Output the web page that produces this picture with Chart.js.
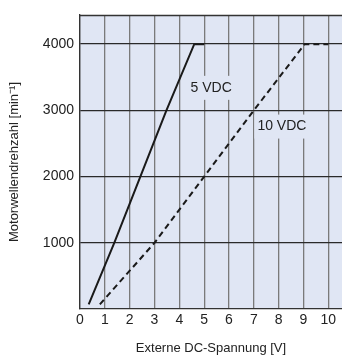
<!DOCTYPE html>
<html>
<head>
<meta charset="utf-8">
<script src="https://cdn.jsdelivr.net/npm/chart.js@4"></script>
<style>
  html, body { margin: 0; padding: 0; background: #fff; }
  #wrap { width: 342px; height: 356px; }
</style>
</head>
<body>
<div id="wrap"><canvas id="c" width="342" height="356"></canvas></div>
<script>
// Kennlinien: Spannung [V] -> Drehzahl [min-1]
const volt5   = [0.35, 1.38, 2.43, 3.48, 4.6, 5.0];
const rpm5    = [70, 1000, 2000, 3000, 4000, 4000];
const volt10  = [0.8, 3.0, 5.0, 7.0, 9.05, 10.0];
const rpm10   = [70, 1000, 2000, 3000, 4000, 4000];
const xTicks  = [0, 1, 2, 3, 4, 5, 6, 7, 8, 9, 10];
const yTicks  = [1000, 2000, 3000, 4000];
const curveLabels = [
  { text: "5 VDC",  x: 5.28, y: 3340 },
  { text: "10 VDC", x: 8.13, y: 2755 },
];

const FONT = "'Liberation Sans', Arial, sans-serif";
const BG   = "#e0e6f4";

// Hintergrund + Rahmen der Zeichenfläche
const plotFrame = {
  id: "plotFrame",
  beforeDraw(chart) {
    const { ctx, chartArea: a } = chart;
    ctx.save();
    ctx.fillStyle = BG;
    ctx.fillRect(a.left, a.top, a.right - a.left, a.bottom - a.top);
    ctx.restore();
  },
  beforeDatasetsDraw(chart) {
    const { ctx, chartArea: a, scales } = chart;
    ctx.save();
    ctx.strokeStyle = "#333";
    ctx.lineWidth = 1.3;
    ctx.beginPath();
    ctx.moveTo(a.left, a.top + 0.5);
    ctx.lineTo(a.right, a.top + 0.5);
    ctx.stroke();
    // Beschriftung der Kurven mit Hintergrund
    ctx.font = "14px " + FONT;
    ctx.textAlign = "center";
    ctx.textBaseline = "middle";
    for (const l of curveLabels) {
      const px = scales.x.getPixelForValue(l.x);
      const py = scales.y.getPixelForValue(l.y);
      const w = ctx.measureText(l.text).width;
      ctx.fillStyle = BG;
      ctx.fillRect(px - w / 2 - 3, py - 12, w + 6, 24);
      ctx.fillStyle = "#222";
      ctx.fillText(l.text, px, py);
    }
    ctx.restore();
  }
};

new Chart(document.getElementById("c").getContext("2d"), {
  type: "line",
  data: {
    datasets: [
      {
        label: "5 VDC",
        data: volt5.map((v, i) => ({ x: v, y: rpm5[i] })),
        borderColor: "#1a1a1a",
        borderWidth: 2,
        pointRadius: 0,
        tension: 0,
      },
      {
        label: "10 VDC",
        data: volt10.map((v, i) => ({ x: v, y: rpm10[i] })),
        borderColor: "#1a1a1a",
        borderWidth: 2,
        borderDash: [6, 4],
        pointRadius: 0,
        tension: 0,
      },
    ],
  },
  options: {
    responsive: false,
    animation: false,
    layout: { padding: { top: 15, right: 0, left: 0, bottom: 0 } },
    plugins: { legend: { display: false }, tooltip: { enabled: false } },
    scales: {
      x: {
        type: "linear",
        min: 0,
        max: 10.55,
        afterBuildTicks: s => { s.ticks = xTicks.map(v => ({ value: v })); },
        afterFit: s => { s.height = 47; },
        ticks: { color: "#222", font: { family: FONT, size: 14 }, padding: 3, maxRotation: 0,
                 callback: v => String(v) },
        grid: { color: "#7a7a7a", lineWidth: 1.3, drawTicks: false },
        border: { color: "#333", width: 1.3 },
        title: {
          display: true,
          text: "Externe DC-Spannung [V]",
          color: "#222",
          font: { family: FONT, size: 13 },
          padding: { top: 7, bottom: 0 },
        },
      },
      y: {
        type: "linear",
        min: 0,
        max: 4440,
        afterBuildTicks: s => { s.ticks = yTicks.map(v => ({ value: v })); },
        afterFit: s => { s.width = 80; },
        ticks: { color: "#222", font: { family: FONT, size: 14 }, padding: 6,
                 callback: v => String(v) },
        grid: { color: "#2a2a2a", lineWidth: 1.3, drawTicks: false },
        border: { color: "#333", width: 1.3 },
        title: {
          display: true,
          text: "Motorwellendrehzahl [min⁻¹]",
          color: "#222",
          font: { family: FONT, size: 13 },
          padding: { top: 7, bottom: 4 },
        },
      },
    },
  },
  plugins: [plotFrame],
});
</script>
</body>
</html>
